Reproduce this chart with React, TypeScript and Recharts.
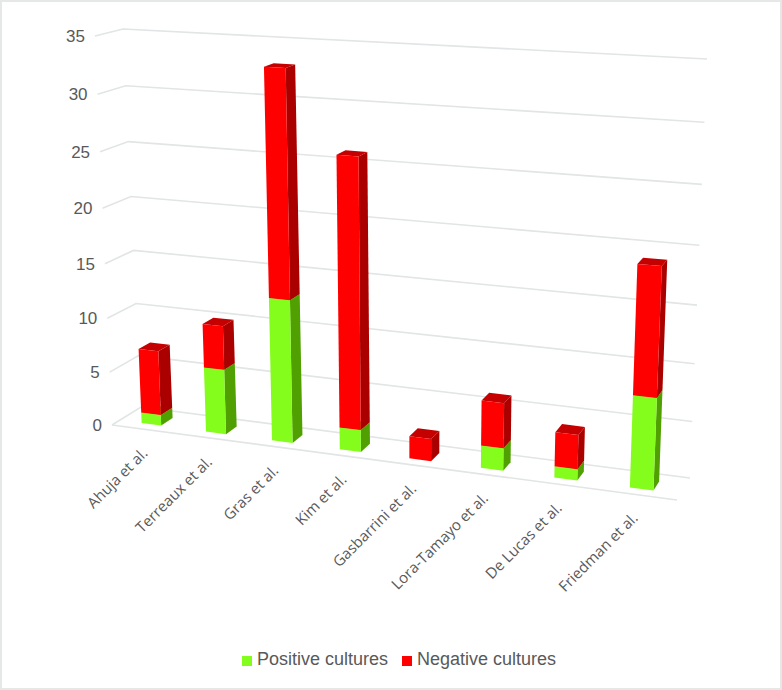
import { BarChart, Bar, XAxis, YAxis, CartesianGrid, Legend } from "recharts";

const studies = [
  "Ahuja et al.",
  "Terreaux et al.",
  "Gras et al.",
  "Kim et al.",
  "Gasbarrini et al.",
  "Lora-Tamayo et al.",
  "De Lucas et al.",
  "Friedman et al.",
];
const positive = [1, 6, 13, 2, 0, 2, 1, 8];
const negative = [6, 4, 20, 24, 2, 4, 3, 11];
const yTicks = [0, 5, 10, 15, 20, 25, 30, 35];

const rows = studies.map((name, i) => ({
  name,
  positive: positive[i],
  negative: negative[i],
}));

// flat plot area that recharts lays out
const PLOT = { left: 100, top: 40, width: 600, height: 380 };

// screen corners of the box: bottom-left, bottom-right, top-right, top-left
const FRONT = [[112, 425], [677, 500], [695, 69], [95, 36]];
const BACK = [[141, 407], [690, 478], [707, 59], [123, 29]];
const BAR_FRONT = 0.27;
const BAR_BACK = 0.68;

// maps a point of the flat plot area onto the tilted plane at depth d
const warp = (px: number, py: number, d: number) => {
  const u = (px - PLOT.left) / PLOT.width;
  const v = (PLOT.top + PLOT.height - py) / PLOT.height;
  const q = FRONT.map((p, i) => [
    p[0] + (BACK[i][0] - p[0]) * d,
    p[1] + (BACK[i][1] - p[1]) * d,
  ]);
  const [[x0, y0], [x1, y1], [x2, y2], [x3, y3]] = q;
  const dx1 = x1 - x2;
  const dx2 = x3 - x2;
  const sx = x0 - x1 + x2 - x3;
  const dy1 = y1 - y2;
  const dy2 = y3 - y2;
  const sy = y0 - y1 + y2 - y3;
  const den = dx1 * dy2 - dx2 * dy1;
  const g = (sx * dy2 - dx2 * sy) / den;
  const h = (dx1 * sy - sx * dy1) / den;
  const w = g * u + h * v + 1;
  return [
    ((x1 - x0 + g * x1) * u + (x3 - x0 + h * x3) * v + x0) / w,
    ((y1 - y0 + g * y1) * u + (y3 - y0 + h * y3) * v + y0) / w,
  ];
};

const pts = (list: number[][]) => list.map((p) => p.join(",")).join(" ");

const boxShape = (side: string, top: string) => (props: any) => {
  const { x, y, width, height, fill } = props;
  if (!height || height <= 0) return <g />;
  const l = x;
  const r = x + width;
  const t = y;
  const b = y + height;
  return (
    <g>
      <polygon
        fill={side}
        points={pts([
          warp(r, b, BAR_FRONT),
          warp(r, b, BAR_BACK),
          warp(r, t, BAR_BACK),
          warp(r, t, BAR_FRONT),
        ])}
      />
      <polygon
        fill={top}
        points={pts([
          warp(l, t, BAR_FRONT),
          warp(r, t, BAR_FRONT),
          warp(r, t, BAR_BACK),
          warp(l, t, BAR_BACK),
        ])}
      />
      <polygon
        fill={fill}
        points={pts([
          warp(l, b, BAR_FRONT),
          warp(r, b, BAR_FRONT),
          warp(r, t, BAR_FRONT),
          warp(l, t, BAR_FRONT),
        ])}
      />
    </g>
  );
};

const gridLine = (props: any) => {
  const { x1, x2, y1, key } = props;
  const isFloor = Math.abs(y1 - (PLOT.top + PLOT.height)) < 0.5;
  return (
    <g key={key}>
      <polyline
        fill="none"
        stroke="#e2e5e5"
        strokeWidth={1.6}
        points={pts([warp(x1, y1, 0), warp(x1, y1, 1), warp(x2, y1, 1)])}
      />
      {isFloor && (
        <line
          stroke="#e2e5e5"
          strokeWidth={1.6}
          x1={warp(x1, y1, 0)[0]}
          y1={warp(x1, y1, 0)[1]}
          x2={warp(x2, y1, 0)[0]}
          y2={warp(x2, y1, 0)[1]}
        />
      )}
    </g>
  );
};

const YTick = (props: any) => {
  const [sx, sy] = warp(PLOT.left, props.y, 0);
  return (
    <text
      x={sx - 10}
      y={sy}
      dy={6}
      textAnchor="end"
      fontSize={17}
      fontFamily="Liberation Sans"
      fill="#595959"
    >
      {props.payload.value}
    </text>
  );
};

const XTick = (props: any) => {
  const [sx, sy] = warp(props.x, PLOT.top + PLOT.height, BAR_FRONT);
  const tx = sx - 3;
  const ty = sy + 30;
  return (
    <text
      x={tx}
      y={ty}
      textAnchor="end"
      fontSize={15}
      fontFamily="Open Sans"
      fill="#595959"
      transform={`rotate(-45 ${tx} ${ty})`}
    >
      {props.payload.value}
    </text>
  );
};

const legendText = (value: string) => (
  <span
    style={{
      color: "#595959",
      fontSize: 18,
      fontFamily: "Liberation Sans",
      marginLeft: 1,
      marginRight: 4,
    }}
  >
    {value}
  </span>
);

export default function App() {
  return (
    <div
      style={{
        position: "absolute",
        left: 0,
        top: 0,
        width: 782,
        height: 690,
        boxSizing: "border-box",
        border: "2px solid #e6e8e8",
        background: "#fff",
      }}
    >
      <div style={{ position: "absolute", left: -2, top: -2 }}>
        <BarChart
          width={782}
          height={690}
          data={rows}
          barCategoryGap="34.5%"
          margin={{ left: 60, right: 82, top: 40, bottom: 210 }}
        >
          <CartesianGrid vertical={false} horizontal={gridLine} />
          <XAxis
            dataKey="name"
            height={30}
            axisLine={false}
            tickLine={false}
            interval={0}
            tick={XTick}
          />
          <YAxis
            width={40}
            domain={[0, 35]}
            ticks={yTicks}
            axisLine={false}
            tickLine={false}
            tick={YTick}
          />
          <Legend
            height={30}
            iconType="square"
            iconSize={10}
            itemSorter={null}
            formatter={legendText}
            wrapperStyle={{ left: 0, width: 812, top: 649, bottom: "auto" }}
          />
          <Bar
            dataKey="positive"
            name="Positive cultures"
            stackId="a"
            fill="#84fc1c"
            shape={boxShape("#4fa000", "#63c010")}
            isAnimationActive={false}
          />
          <Bar
            dataKey="negative"
            name="Negative cultures"
            stackId="a"
            fill="#ff0000"
            shape={boxShape("#aa0000", "#c40000")}
            isAnimationActive={false}
          />
        </BarChart>
      </div>
    </div>
  );
}
